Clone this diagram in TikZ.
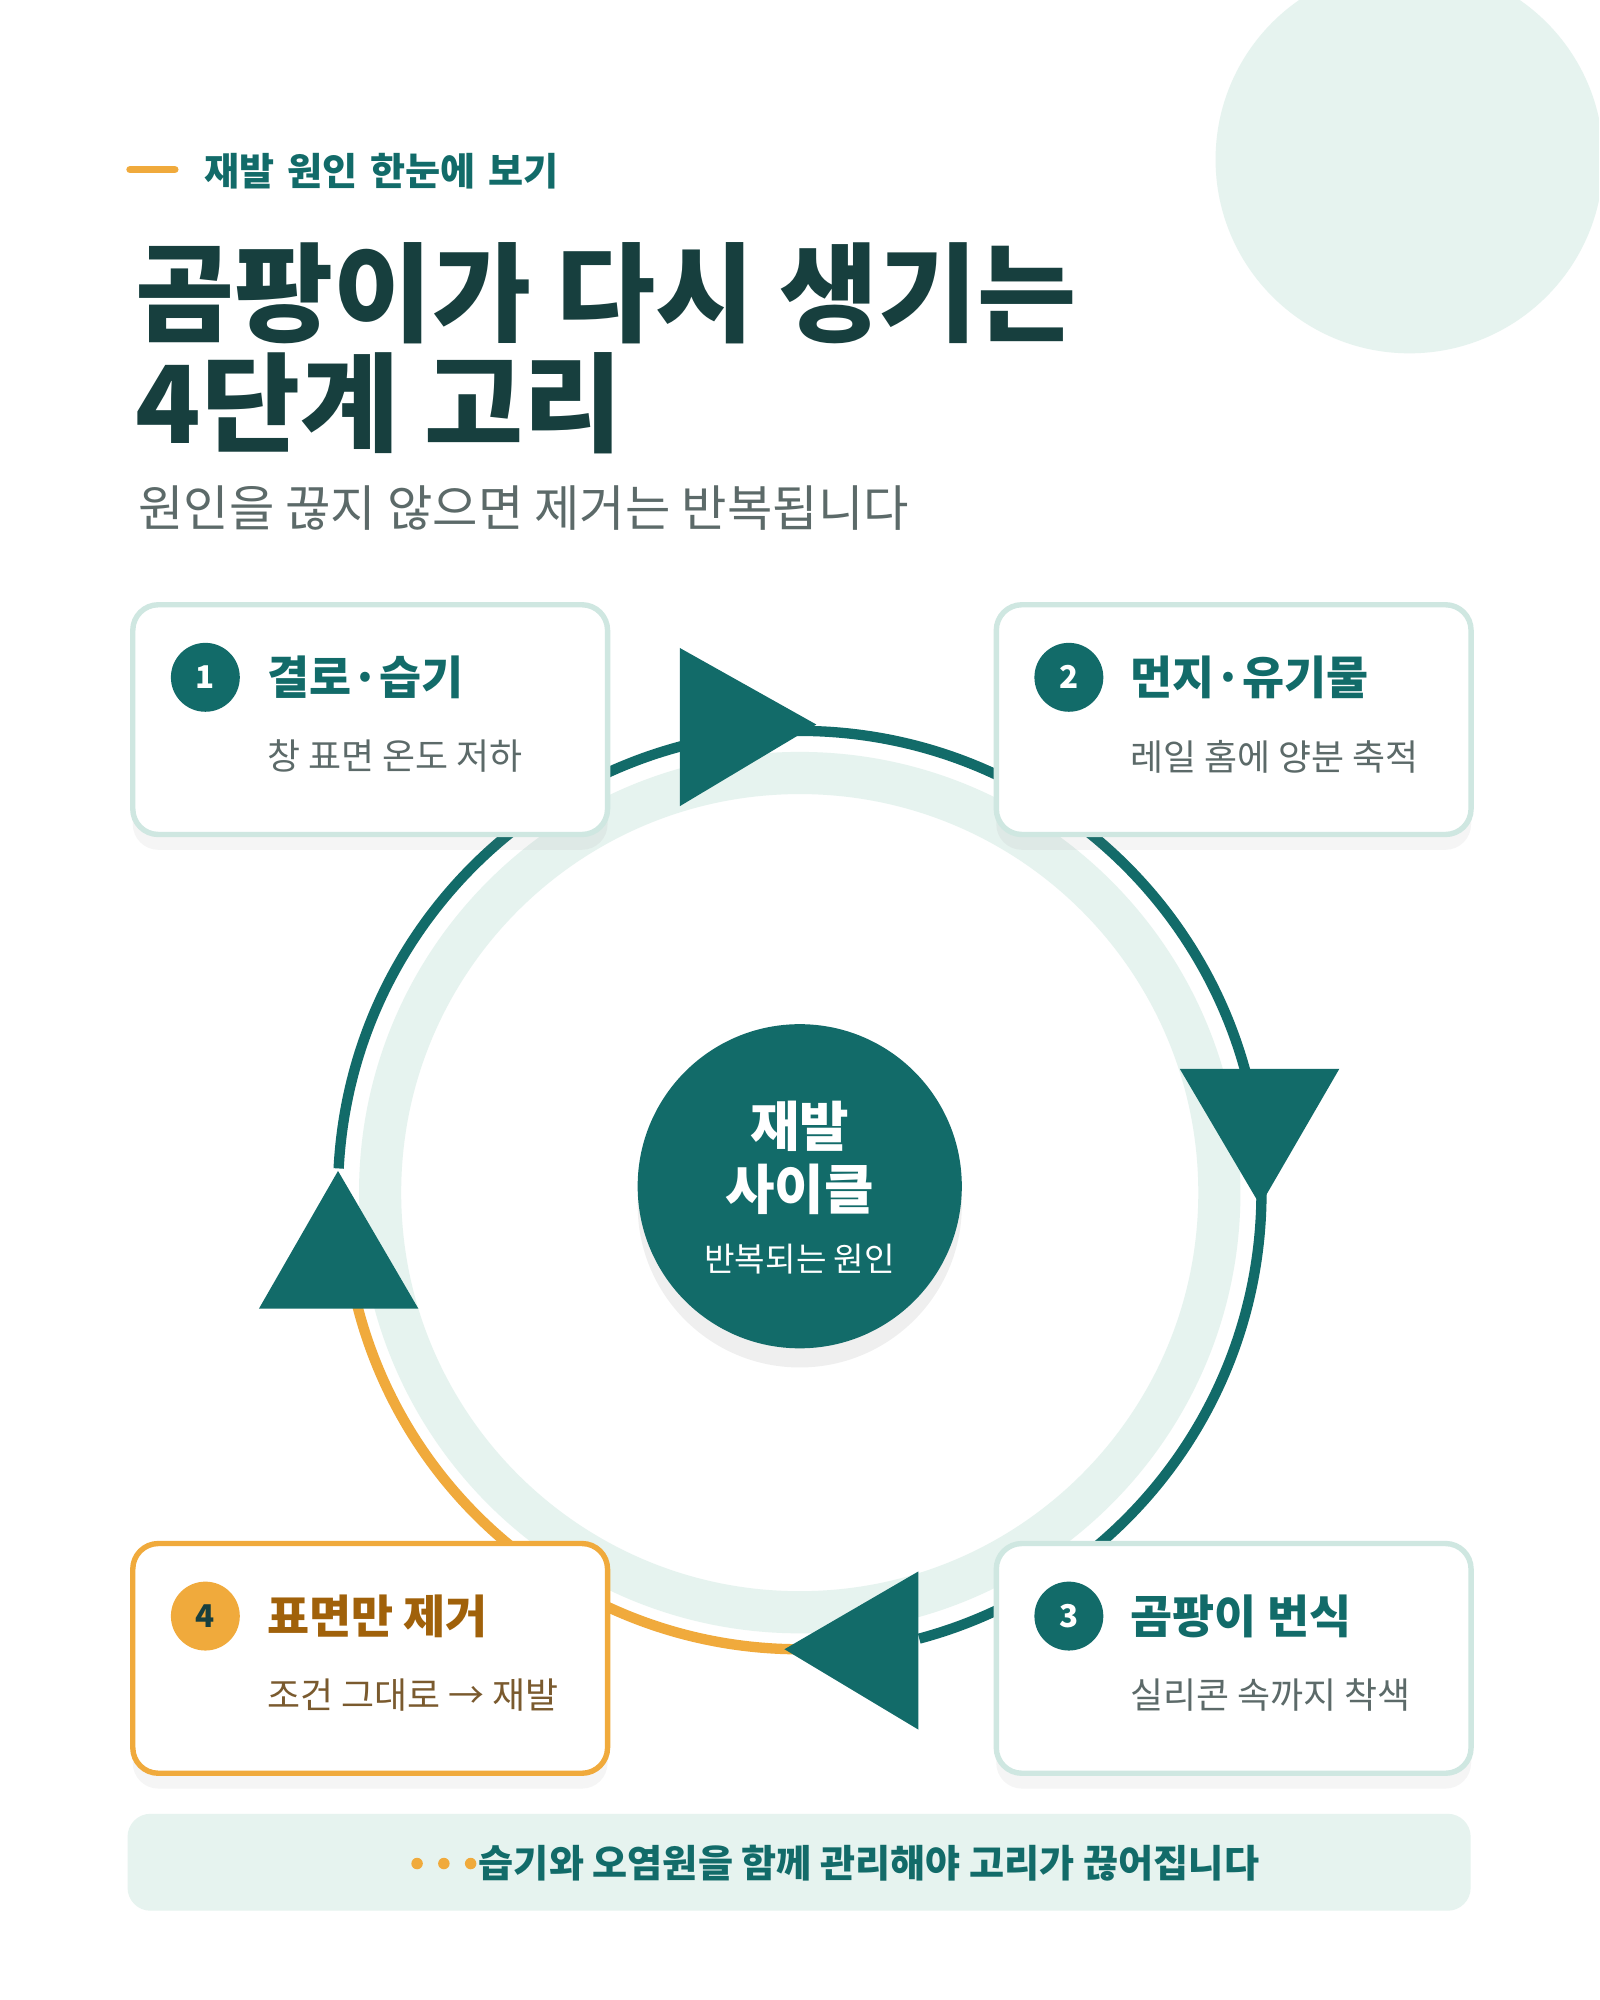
\documentclass[tikz,border=0pt]{standalone}
\usepackage{fontspec}
\setmainfont{Noto Sans CJK KR}
\usetikzlibrary{shadows}
\definecolor{teal}{HTML}{126B69}
\definecolor{dark}{HTML}{173F3E}
\definecolor{mint}{HTML}{E6F3EF}
\definecolor{cardline}{HTML}{CFE7E1}
\definecolor{org}{HTML}{F0AA3C}
\definecolor{brown}{HTML}{A0610A}
\definecolor{gtxt}{HTML}{5C6A69}
\definecolor{btxt}{HTML}{7A5A2E}
\begin{document}
\begin{tikzpicture}[x=0.01cm,y=-0.01cm,
 card/.style={draw=cardline,line width=1.2pt,fill=white,rounded corners=0.2cm,minimum width=3.72cm,minimum height=1.8cm,anchor=north west,drop shadow={opacity=0.08,shadow xshift=0cm,shadow yshift=-0.12cm}},
 num/.style={circle,fill=teal,minimum size=0.54cm,inner sep=0,text=white,font=\fontsize{7}{8}\selectfont\bfseries},
 ctitle/.style={anchor=west,text=teal,font=\fontsize{10.2}{12}\selectfont\bfseries},
 csub/.style={anchor=west,text=gtxt,font=\fontsize{8}{10}\selectfont},
 tri/.style={fill=teal}]
\useasboundingbox (0,0) rectangle (1254,1568);
\fill[white] (0,0) rectangle (1254,1568);
\fill[mint] (1105,125) circle (152);
\fill[white] (1254,-10) rectangle (1300,400);
% header
\draw[org,line width=1.7pt,line cap=round] (102,133) -- (137,133);
\node[anchor=west,text=teal,font=\fontsize{8.5}{10}\selectfont\bfseries] (eb) at (148,134) {재발\,\,원인\,\,한눈에\,\,보기};
\node[anchor=west,text=dark,font=\fontsize{24}{26}\selectfont\bfseries] (t1) at (94,230) {곰팡이가 다시 생기는};
\node[anchor=west,text=dark,font=\fontsize{24}{26}\selectfont\bfseries] (t2) at (94,316) {4단계 고리};
\node[anchor=west,text=gtxt,font=\fontsize{11}{13}\selectfont] (st) at (96,398) {원인을 끊지 않으면 제거는 반복됩니다};
% ring
\draw[mint,line width=9.4pt] (627,935) circle (329);
\draw[teal,line width=2.3pt] (627,935) ++(183:362) arc (183:435:362);
\draw[org,line width=2.3pt,line cap=round] (627,935) ++(90:358) arc (90:166:358);
% arrows
\fill[tri] (640,568) -- (533,508) -- (533,632) -- cycle;
\fill[tri] (988,945) -- (925,838) -- (1050,838) -- cycle;
\fill[tri] (615,1293) -- (720,1232) -- (720,1356) -- cycle;
\fill[tri] (265,918) -- (203,1026) -- (328,1026) -- cycle;
% cards
\node[card] (c1) at (102,472) {};
\node[card] (c2) at (779,472) {};
\node[card] (c3) at (779,1208) {};
\node[card,draw=org] (c4) at (102,1208) {};
\node[num] (n1) at (161,531) {1};
\node[ctitle] (h1) at (197,531) {결로·습기};
\node[csub] (s1) at (197,593) {창 표면 온도 저하};
\node[num] (n2) at (838,531) {2};
\node[ctitle] (h2) at (874,531) {먼지·유기물};
\node[csub] (s2) at (874,593) {레일 홈에 양분 축적};
\node[num] (n3) at (838,1267) {3};
\node[ctitle] (h3) at (874,1267) {곰팡이 번식};
\node[csub] (s3) at (874,1329) {실리콘 속까지 착색};
\node[num,fill=org,text=dark] (n4) at (161,1267) {4};
\node[ctitle,text=brown] (h4) at (197,1267) {표면만 제거};
\node[csub,text=btxt] (s4) at (197,1329) {조건 그대로 → 재발};
% center
\node[circle,fill=teal,minimum size=2.54cm,drop shadow={opacity=0.12,shadow xshift=0cm,shadow yshift=-0.15cm}] (cc) at (627,930) {};
\node[text=white,font=\fontsize{12}{14}\selectfont\bfseries,align=center] (ct) at (627,908) {재발\\사이클};
\node[text=white,font=\fontsize{7.4}{9}\selectfont] (cs) at (627,987) {반복되는 원인};
% bottom bar
\fill[mint,rounded corners=0.18cm] (100,1422) rectangle (1153,1498);
\foreach \x in {327,348,369} \fill[org] (\x,1461) circle (4.5);
\node[anchor=west,text=teal,font=\fontsize{8.5}{10}\selectfont\bfseries] (bt) at (363,1461) {습기와 오염원을 함께 관리해야 고리가 끊어집니다};
\end{tikzpicture}
\end{document}
